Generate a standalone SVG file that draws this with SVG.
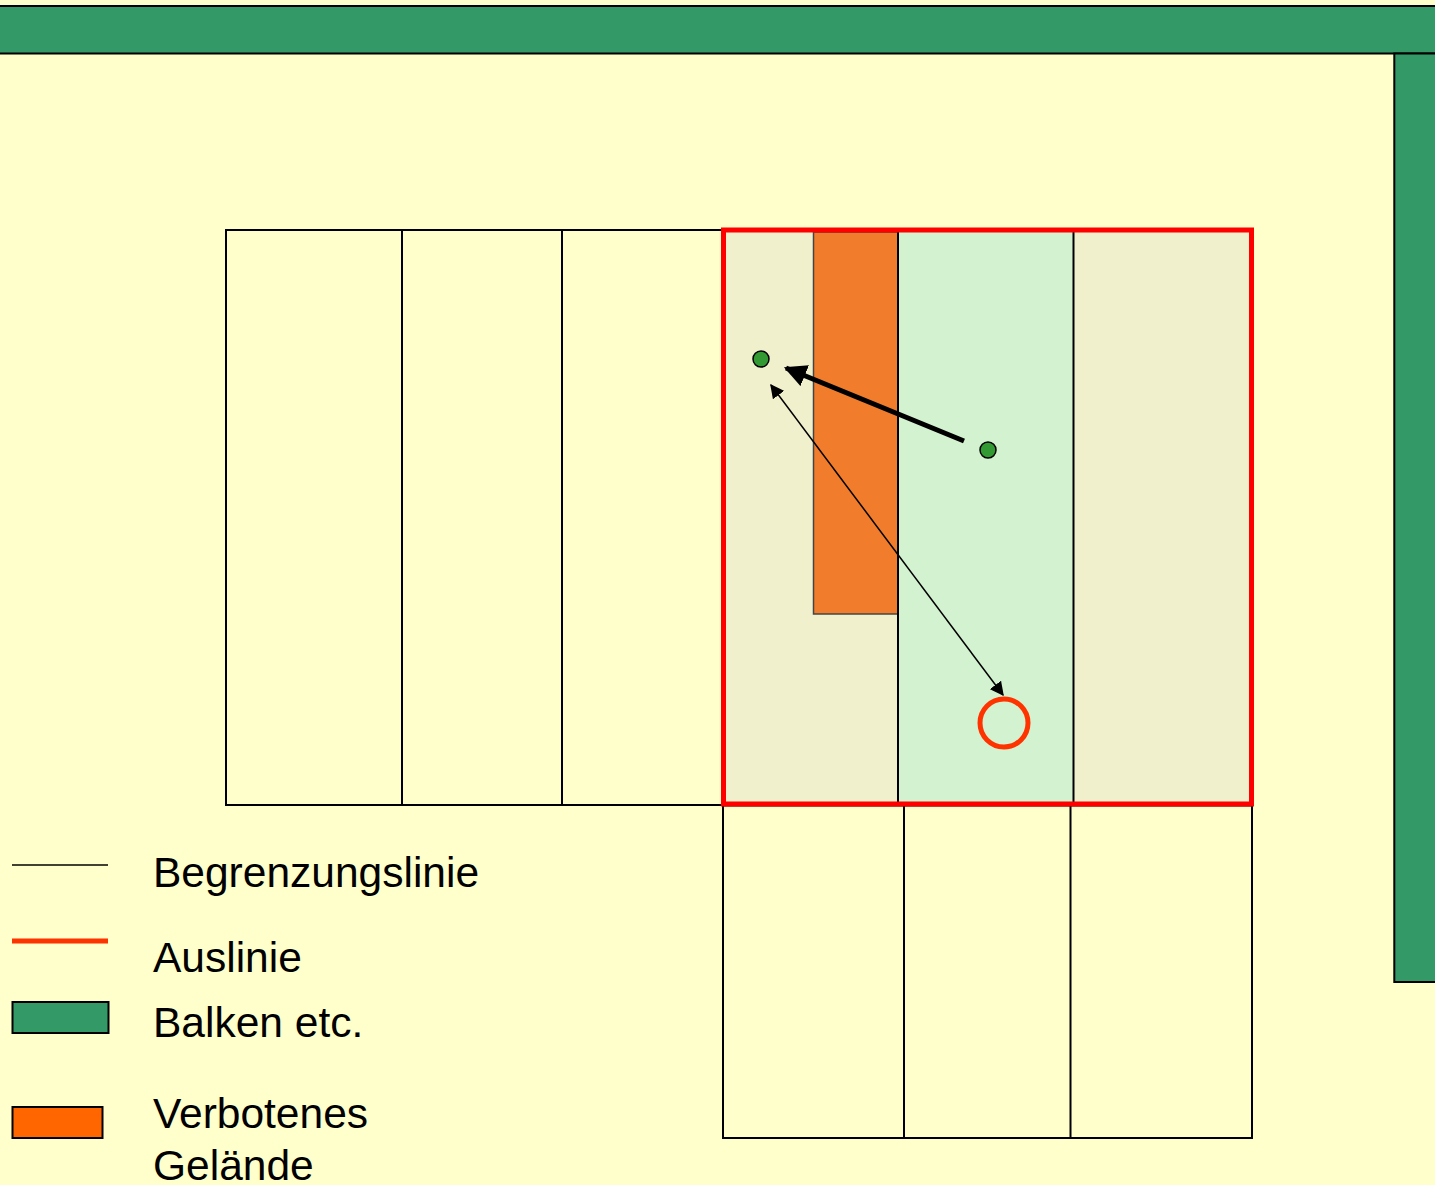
<svg xmlns="http://www.w3.org/2000/svg" width="1435" height="1185" viewBox="0 0 1435 1185">
<defs>
<style>
.ln{stroke:#000;stroke-width:2;fill:none}
.lbl{font-family:"Liberation Sans",Arial,sans-serif;font-size:42.5px;fill:#000}
.dot{fill:#339933;stroke:#000;stroke-width:1.5}
</style>
<marker id="ah" viewBox="0 0 10 10" refX="9" refY="5" markerWidth="4.5" markerHeight="4.5" orient="auto-start-reverse" markerUnits="strokeWidth"><path d="M0,0 L10,5 L0,10 z" fill="#000"/></marker>
<marker id="ahs" viewBox="0 0 10 10" refX="9" refY="5" markerWidth="14" markerHeight="14" orient="auto-start-reverse" markerUnits="userSpaceOnUse"><path d="M0,0 L10,5 L0,10 z" fill="#000"/></marker>
</defs>
<rect width="1435" height="1185" fill="#FFFFCC"/>
<g id="balken-top"><rect x="-5" y="6" width="1445" height="47.5" fill="#339966" stroke="#000" stroke-width="2"/></g>
<g id="balken-right"><rect x="1394.3" y="53.5" width="50" height="928.5" fill="#339966" stroke="#000" stroke-width="2"/></g>
<g id="grid-left">
<rect x="226" y="230" width="496" height="575" class="ln"/>
<line x1="402" y1="230" x2="402" y2="805" class="ln"/>
<line x1="562" y1="230" x2="562" y2="805" class="ln"/>
</g>
<g id="grid-bottom">
<rect x="723" y="805.5" width="529" height="332.5" class="ln"/>
<line x1="904" y1="805" x2="904" y2="1138" class="ln"/>
<line x1="1070.5" y1="805" x2="1070.5" y2="1138" class="ln"/>
</g>
<g id="field">
<rect x="723" y="230" width="175" height="574" fill="#F0F0CC"/>
<rect x="898" y="230" width="176" height="574" fill="#D3F3D0"/>
<rect x="1074" y="230" width="178" height="574" fill="#F0F0CC"/>
<rect x="813.5" y="232" width="84.5" height="382" fill="#F07C2C" stroke="#444" stroke-width="1.5"/>
<line x1="898" y1="230" x2="898" y2="804" class="ln"/>
<line x1="1073.5" y1="230" x2="1073.5" y2="804" class="ln"/>
<rect x="723.5" y="230" width="528" height="574" fill="none" stroke="#FF0000" stroke-width="5"/>
</g>
<g id="target"><circle cx="1004" cy="723" r="24" fill="none" stroke="#FF3300" stroke-width="5"/></g>
<g id="ball-1"><circle cx="761" cy="359" r="8" class="dot"/></g>
<g id="ball-2"><circle cx="988" cy="450" r="8" class="dot"/></g>
<g id="connectors">
<line x1="964" y1="441" x2="786" y2="368" stroke="#000" stroke-width="5" marker-end="url(#ah)"/>
<line x1="771" y1="385" x2="1003" y2="695" stroke="#000" stroke-width="1.5" marker-start="url(#ahs)" marker-end="url(#ahs)"/>
</g>
<g id="legend">
<line x1="12" y1="865" x2="108" y2="865" stroke="#000" stroke-width="1.5"/>
<line x1="12" y1="941" x2="108" y2="941" stroke="#FF3300" stroke-width="5"/>
<rect x="12.5" y="1002" width="96" height="31" fill="#339966" stroke="#000" stroke-width="2"/>
<rect x="12.5" y="1107" width="90" height="31" fill="#FF6600" stroke="#000" stroke-width="2"/>
<text x="153" y="887" class="lbl">Begrenzungslinie</text>
<text x="153" y="972" class="lbl">Auslinie</text>
<text x="153" y="1037" class="lbl">Balken etc.</text>
<text x="153" y="1128" class="lbl">Verbotenes</text>
<text x="153" y="1180" class="lbl">Gelände</text>
</g>
</svg>
